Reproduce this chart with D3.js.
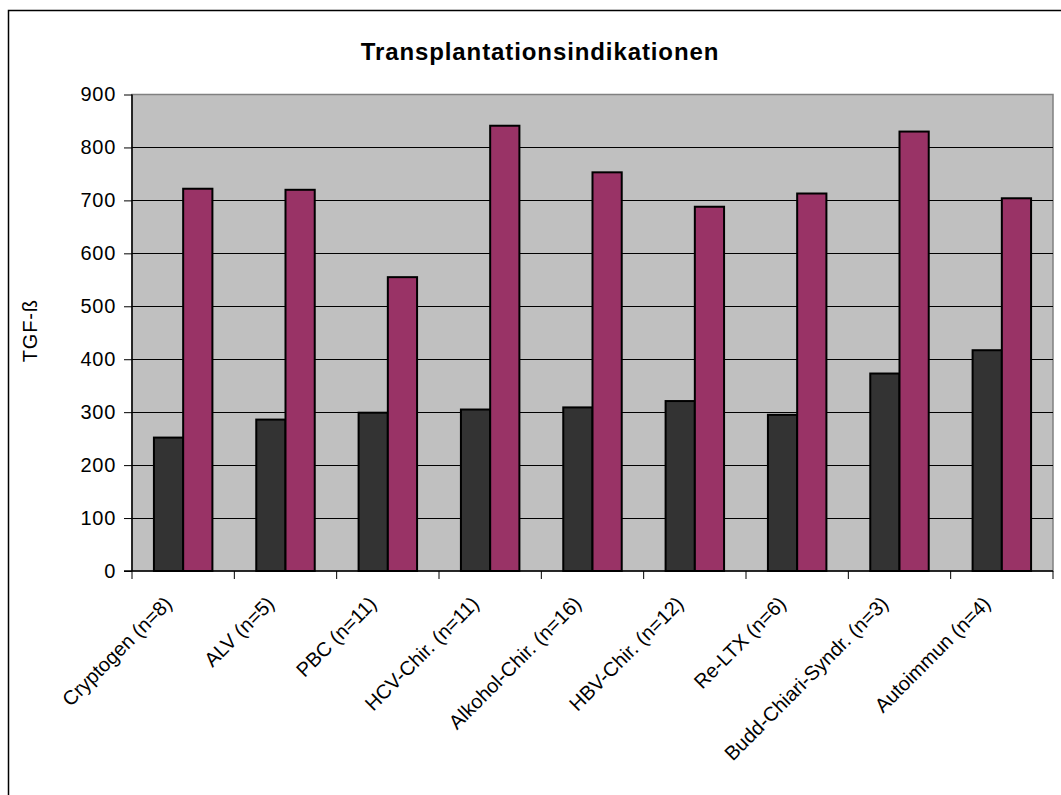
<!DOCTYPE html>
<html>
<head>
<meta charset="utf-8">
<script src="https://cdn.jsdelivr.net/npm/d3@7"></script>
<style>
  html, body { margin: 0; padding: 0; background: #fff; }
  svg { display: block; font-family: Arial, "Liberation Sans", sans-serif; }
</style>
</head>
<body>
<svg id="chart" width="1061" height="795"></svg>
<script>
// Indications and TGF-ß values (two series per indication)
const categories = [
  "Cryptogen (n=8)", "ALV (n=5)", "PBC (n=11)", "HCV-Chir. (n=11)",
  "Alkohol-Chir. (n=16)", "HBV-Chir. (n=12)", "Re-LTX (n=6)",
  "Budd-Chiari-Syndr. (n=3)", "Autoimmun (n=4)"
];
const seriesA = [252, 286, 299, 305, 309, 321, 295, 373, 417];
const seriesB = [722, 720, 555, 841, 753, 688, 713, 830, 704];
const yTicks = [0, 100, 200, 300, 400, 500, 600, 700, 800, 900];
const seriesColors = ["#333333", "#993366"];

const svg = d3.select("#chart");

// outer chart frame
svg.append("rect")
  .attr("x", 8.5).attr("y", 10.5)
  .attr("width", 1200).attr("height", 1000)
  .attr("fill", "#fff").attr("stroke", "#000").attr("stroke-width", 1.5);

const plot = { left: 132, right: 1053, top: 94.5, bottom: 571 };

const x = d3.scaleBand()
  .domain(categories)
  .range([plot.left, plot.right])
  .paddingInner(0).paddingOuter(0);

// two bars per group, 150% gap width
const inner = d3.scaleBand()
  .domain([0, 1])
  .range([0, x.bandwidth()])
  .paddingInner(0)
  .paddingOuter(0.75);

const y = d3.scaleLinear()
  .domain([0, 900])
  .range([plot.bottom, plot.top]);

// plot background
svg.append("rect")
  .attr("x", plot.left).attr("y", plot.top)
  .attr("width", plot.right - plot.left).attr("height", plot.bottom - plot.top)
  .attr("fill", "#c0c0c0").attr("stroke", "#808080").attr("stroke-width", 1.5);

// horizontal gridlines
svg.append("g")
  .selectAll("line")
  .data(yTicks.filter(d => d > 0 && d < 900))
  .join("line")
  .attr("x1", plot.left).attr("x2", plot.right)
  .attr("y1", d => Math.round(y(d)) + 0.5).attr("y2", d => Math.round(y(d)) + 0.5)
  .attr("stroke", "#000").attr("stroke-width", 1);

// bars
const rows = categories.map((c, i) => ({ c, vals: [seriesA[i], seriesB[i]] }));
const groups = svg.append("g")
  .selectAll("g")
  .data(rows)
  .join("g")
  .attr("transform", d => `translate(${x(d.c)},0)`);

groups.selectAll("rect")
  .data(d => d.vals.map((v, k) => ({ v, k })))
  .join("rect")
  .attr("x", d => inner(d.k))
  .attr("width", inner.bandwidth())
  .attr("y", d => y(d.v))
  .attr("height", d => y(0) - y(d.v))
  .attr("fill", d => seriesColors[d.k])
  .attr("stroke", "#000")
  .attr("stroke-width", 2);

// y axis
const yAxis = d3.axisLeft(y)
  .tickValues(yTicks)
  .tickSize(8)
  .tickPadding(8);
const gy = svg.append("g")
  .attr("transform", `translate(${plot.left},0)`)
  .call(yAxis);
gy.select(".domain").attr("stroke", "#000").attr("stroke-width", 1.5).attr("d", `M0,${plot.top}V${plot.bottom}`);
gy.selectAll(".tick line").attr("stroke", "#000");
gy.selectAll(".tick text")
  .attr("font-size", 20).attr("fill", "#000")
  .attr("letter-spacing", "0.7px")
  .attr("font-family", "Arial, 'Liberation Sans', sans-serif");

// x axis: tick marks on the category boundaries
const boundaries = categories.map(c => x(c)).concat([plot.right]);
svg.append("line")
  .attr("x1", plot.left - 8).attr("x2", plot.right)
  .attr("y1", plot.bottom).attr("y2", plot.bottom)
  .attr("stroke", "#000").attr("stroke-width", 1.5);
svg.append("g")
  .selectAll("line")
  .data(boundaries)
  .join("line")
  .attr("x1", d => d).attr("x2", d => d)
  .attr("y1", plot.bottom).attr("y2", plot.bottom + 8)
  .attr("stroke", "#000").attr("stroke-width", 1);

// rotated category labels
svg.append("g")
  .selectAll("text")
  .data(categories)
  .join("text")
  .attr("transform", d => `translate(${x(d) + x.bandwidth() / 2 - 10},${plot.bottom + 34}) rotate(-45)`)
  .attr("text-anchor", "end")
  .attr("font-size", 20)
  .attr("fill", "#000")
  .text(d => d);

// y axis title
svg.append("text")
  .attr("transform", `translate(37,${(plot.top + plot.bottom) / 2 - 2}) rotate(-90)`)
  .attr("text-anchor", "middle")
  .attr("font-size", 20)
  .attr("letter-spacing", "0.8px")
  .attr("fill", "#000")
  .text("TGF-ß");

// chart title
svg.append("text")
  .attr("x", 540).attr("y", 60)
  .attr("text-anchor", "middle")
  .attr("font-size", 24)
  .attr("letter-spacing", "0.9px")
  .attr("font-weight", "bold")
  .attr("fill", "#000")
  .text("Transplantationsindikationen");
</script>
</body>
</html>
